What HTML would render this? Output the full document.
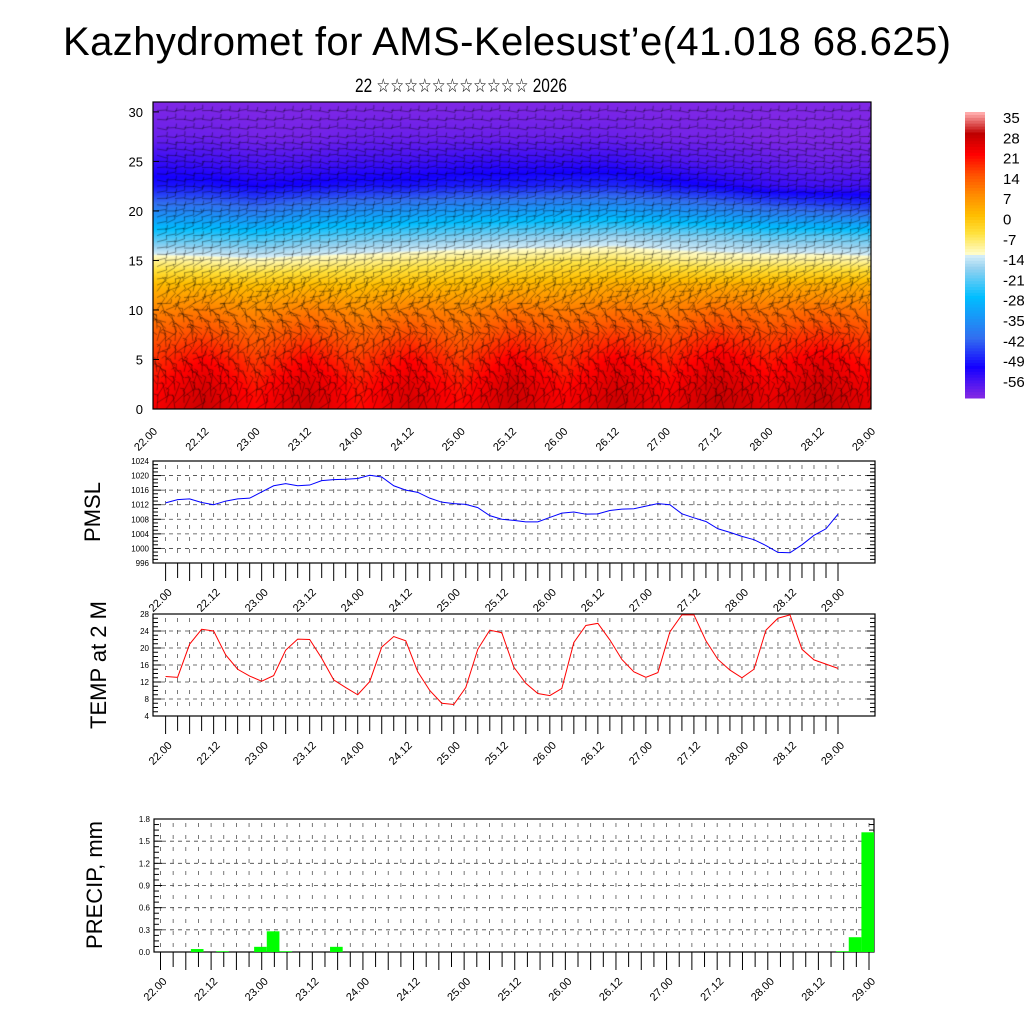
<!DOCTYPE html>
<html><head><meta charset="utf-8">
<style>
html,body{margin:0;padding:0;background:#fff;}
body{width:1024px;height:1024px;position:relative;overflow:hidden;font-family:"Liberation Sans",sans-serif;}
#cs{position:absolute;left:153px;top:102px;}
svg{position:absolute;left:0;top:0;}
</style></head>
<body>
<canvas id="cs" width="718" height="307"></canvas>
<svg id="svg" width="1024" height="1024"></svg>
<script>
// ---- data ----
const timeLabels = ["22.00","22.12","23.00","23.12","24.00","24.12","25.00","25.12","26.00","26.12","27.00","27.12","28.00","28.12","29.00"];
const pmsl = [1012.5,1013.4,1013.6,1012.6,1012.0,1013.0,1013.6,1013.8,1015.5,1017.2,1017.8,1017.2,1017.4,1018.6,1018.9,1019.0,1019.2,1020.1,1019.6,1017.2,1016.0,1015.4,1013.8,1012.7,1012.3,1012.1,1011.2,1009.0,1008.0,1007.7,1007.3,1007.3,1008.5,1009.7,1010.0,1009.4,1009.5,1010.4,1010.8,1010.9,1011.6,1012.3,1012.0,1009.5,1008.4,1007.4,1005.4,1004.4,1003.3,1002.4,1000.8,998.9,998.8,1001.0,1003.6,1005.4,1009.4];
const temp2m = [13.3,13.1,20.9,24.4,24.0,18.4,15.0,13.4,12.2,13.5,19.5,22.1,22.0,17.6,12.5,10.7,9.0,12.1,20.2,22.7,21.7,14.4,10.0,7.0,6.7,10.7,19.7,24.2,23.6,15.5,11.7,9.3,8.8,10.5,21.3,25.3,25.8,21.9,17.3,14.4,13.1,14.2,23.8,27.8,27.8,21.7,17.3,14.8,13.0,15.0,24.2,27.0,27.8,19.7,17.2,16.2,15.2];
const precipIdx = [3,5,8,9,10,14,54,55,56];
const precipVal = [0.04,0.01,0.07,0.28,0.01,0.07,0.01,0.2,1.62];
const pmslTicks = [996,1000,1004,1008,1012,1016,1020,1024];
const tempTicks = [4,8,12,16,20,24,28];
const precipTicks = ["0.0","0.3","0.6","0.9","1.2","1.5","1.8"];
const heightTicks = [0,5,10,15,20,25,30];
const csLevels = [0,2.5,5,7.5,10,12.5,15,17.5,20,22.5,25,27.5,31];
// temperature by level (rows) x 12h time (cols, 15)
const csTemp = [
 [22,27,21,27,20,26,21,27,22,27,23,28,24,28,24],
 [20,25,19,25,19,24,19,26,20,25,21,26,22,26,22],
 [17,21,16,21,16,21,16,22,17,22,18,23,19,23,19],
 [13,15,12,15,12,15,12,16,14,16,14,17,15,17,15],
 [8,9,7,9,7,9,8,10,9,10,9,11,10,11,10],
 [1,1,0,1,0,1,1,2,2,3,3,3,3,3,3],
 [-10,-11,-12,-11,-10,-9,-8,-8,-7,-7,-9,-10,-10,-10,-11],
 [-24,-24,-25,-23,-22,-21,-20,-19,-19,-18,-19,-20,-22,-22,-23],
 [-38,-38,-40,-37,-36,-35,-34,-34,-33,-33,-35,-37,-40,-42,-44],
 [-50,-50,-52,-51,-50,-50,-49,-49,-48,-48,-50,-52,-55,-56,-56],
 [-55,-56,-57,-57,-56,-56,-55,-55,-55,-55,-57,-58,-59,-60,-60],
 [-60,-60,-61,-61,-60,-60,-60,-60,-60,-60,-61,-61,-62,-62,-62],
 [-62,-62,-62,-62,-62,-62,-62,-62,-62,-62,-62,-62,-62,-62,-62]];
const windDirByLevel = [70,110,60,130,40,20,10,15,5,0,-5,0,0];
const cbLabels = ["35","28","21","14","7","0","-7","-14","-21","-28","-35","-42","-49","-56"];

const NS="http://www.w3.org/2000/svg";
const svg=document.getElementById('svg');
function mk(tag,attrs,parent){const e=document.createElementNS(NS,tag);for(const k in attrs)e.setAttribute(k,attrs[k]);(parent||svg).appendChild(e);return e;}
function txt(s,x,y,size,anchor,rot,name){const t=mk('text',{x:x,y:y,'font-size':size,'text-anchor':anchor||'middle','font-family':'Liberation Sans, DejaVu Sans, sans-serif',fill:'#000'});if(rot)t.setAttribute('transform',`rotate(${rot} ${x} ${y})`);t.textContent=s;return t;}

const cStops=[[-63,[138,43,226]],[-52,[20,0,255]],[-42,[50,110,240]],[-28,[0,190,255]],[-18,[150,210,240]],[-14,[210,236,248]],[-13,[255,252,200]],[-6,[255,225,60]],[0,[255,190,0]],[7,[255,140,0]],[14,[255,80,0]],[21,[255,0,0]],[28,[190,0,0]],[35,[255,170,170]]];
function col(v){if(v<=cStops[0][0])return cStops[0][1];for(let i=1;i<cStops.length;i++){if(v<=cStops[i][0]){const a=cStops[i-1],b=cStops[i];const f=(v-a[0])/(b[0]-a[0]);return a[1].map((c,j)=>Math.round(c+(b[1][j]-c)*f));}}return cStops[cStops.length-1][1];}

const csX0=153,csX1=871,csYb=409,csYt=102;
const csHx=i=>csX0+(csX1-csX0)*i/14;
const csHy=h=>csYb-(h/31)*(csYb-csYt);
(function(){
 const cv=document.getElementById('cs'),ctx=cv.getContext('2d');
 const W=718,H=307,img=ctx.createImageData(W,H);
 for(let py=0;py<H;py++){const h=31*(1-py/H);let r=0;while(r<csLevels.length-2&&h>csLevels[r+1])r++;const fr=(h-csLevels[r])/(csLevels[r+1]-csLevels[r]);
  for(let px=0;px<W;px++){const t=px/W*14;const c=Math.min(13,Math.floor(t));const fc=t-c;
   const v0=csTemp[r][c]*(1-fc)+csTemp[r][c+1]*fc,v1=csTemp[r+1][c]*(1-fc)+csTemp[r+1][c+1]*fc;
   const rgb=col(v0*(1-fr)+v1*fr);const k=(py*W+px)*4;img.data[k]=rgb[0];img.data[k+1]=rgb[1];img.data[k+2]=rgb[2];img.data[k+3]=255;}}
 ctx.putImageData(img,0,0);
 ctx.strokeStyle='rgba(0,0,0,0.55)';ctx.lineWidth=0.7;
 for(let li=0;li<csLevels.length-1;li++){
  for(let sub=0;sub<4;sub++){const h=csLevels[li]+sub*(csLevels[li+1]-csLevels[li])/4;const y=H-(h/31)*H;
   const dir=windDirByLevel[li]*Math.PI/180;
   for(let x=4;x<W;x+=9){const a=dir+((x*7+sub*13)%40-20)*Math.PI/180*(li<5?2:0.6);const L=li<5?14:10;
    ctx.beginPath();ctx.moveTo(x,y);ctx.lineTo(x+Math.cos(a)*L,y-Math.sin(a)*L);ctx.lineTo(x+Math.cos(a)*L+Math.cos(a+1.4)*4,y-Math.sin(a)*L-Math.sin(a+1.4)*4);ctx.stroke();}}}
})();
mk('rect',{x:csX0,y:csYt,width:csX1-csX0,height:csYb-csYt,fill:'none',stroke:'#000','stroke-width':1.2,});
heightTicks.forEach(h=>{const y=csHy(h);txt(String(h),143,y+5,13,'end',0,'height-tick-label');mk('line',{x1:csX0,x2:csX0+6,y1:y,y2:y,stroke:'#000'});});
timeLabels.forEach((s,i)=>{const x=csHx(i);txt(s,x+5,432,11,'end',-45,'time-tick-label');});

for(let i=0;i<98;i++){const v=35-i;const rgb=col(v);mk('rect',{x:965,y:112+i*286/98,width:20,height:286/98+0.5,fill:`rgb(${rgb})`,});}
cbLabels.forEach((s,i)=>txt(s,1003,123+i*20.3,15,'start',0,'colorbar-label'));

const tt=txt("Kazhydromet for AMS-Kelesust\u2019e(41.018 68.625)",507,55,40,'middle',0,'chart-title');
tt.setAttribute('textLength','888');
const st=txt("22 \u2606\u2606\u2606\u2606\u2606\u2606\u2606\u2606\u2606\u2606\u2606 2026",461,92,19,'middle',0,'chart-subtitle');
st.setAttribute('textLength','212');st.setAttribute('lengthAdjust','spacingAndGlyphs');

function panel(o){
 const {x0,x1,yt,yb,tx0,tx1,vmin,vmax,ticks,labels,name}=o;
 const xs=i=>tx0+(tx1-tx0)*i/56, ys=v=>yb-(v-vmin)/(vmax-vmin)*(yb-yt);
 const g=mk('g',{});
 for(let i=0;i<=56;i++){const x=xs(i);mk('line',{x1:x,x2:x,y1:yt+4,y2:yb-4,stroke:'#555','stroke-width':0.8,'stroke-dasharray':'4 8'},g);
  mk('line',{x1:x,x2:x,y1:yb,y2:yb+(i%2?15:18),stroke:'#000','stroke-width':1},g);}
 ticks.forEach((v,k)=>{const y=ys(v);if(k>0&&k<ticks.length-1)mk('line',{x1:x0,x2:x1,y1:y,y2:y,stroke:'#444','stroke-width':0.8,'stroke-dasharray':'4 4'},g);
  txt(labels?labels[k]:String(v),x0-4,y+3,8,'end',0,name+'-y-tick');
  mk('line',{x1:x0,x2:x0+8,y1:y,y2:y,stroke:'#000'},g);mk('line',{x1:x1-8,x2:x1,y1:y,y2:y,stroke:'#000'},g);
  if(k<ticks.length-1)for(let m=1;m<4;m++){const ym=y-(m/4)*(ys(ticks[0])-ys(ticks[1]));mk('line',{x1:x0,x2:x0+5,y1:ym,y2:ym,stroke:'#000'},g);mk('line',{x1:x1-5,x2:x1,y1:ym,y2:ym,stroke:'#000'},g);}});
 mk('rect',{x:x0,y:yt,width:x1-x0,height:yb-yt,fill:'none',stroke:'#000','stroke-width':1.2},g);
 timeLabels.forEach((s,i)=>txt(s,xs(i*4)+7,yb+30,11,'end',-45,name+'-time-label'));
 return {xs,ys,g};
}
const p1=panel({x0:153,x1:875,yt:461,yb:563,tx0:165.6,tx1:838,vmin:996,vmax:1024,ticks:pmslTicks,name:'pmsl'});
mk('polyline',{points:pmsl.map((v,i)=>p1.xs(i)+','+p1.ys(v)).join(' '),fill:'none',stroke:'#0000ff','stroke-width':1,});
txt("PMSL",100,512,22,'middle',-90,'pmsl-axis-title');

const p2=panel({x0:153,x1:875,yt:614,yb:716,tx0:165.6,tx1:838,vmin:4,vmax:28,ticks:tempTicks,name:'temp'});
mk('polyline',{points:temp2m.map((v,i)=>p2.xs(i)+','+p2.ys(v)).join(' '),fill:'none',stroke:'#ff0000','stroke-width':1,});
txt("TEMP at 2 M",106,665,22,'middle',-90,'temp-axis-title');

const p3=panel({x0:154,x1:874,yt:819,yb:952,tx0:160.5,tx1:869,vmin:0,vmax:1.8,ticks:[0,0.3,0.6,0.9,1.2,1.5,1.8],labels:precipTicks,name:'precip'});
precipIdx.forEach((i,k)=>{const xa=p3.xs(i-0.6),xb=p3.xs(i+0.4),y=p3.ys(precipVal[k]);
 const r=mk('rect',{x:xa,y:y,width:xb-xa,height:952-y,fill:'#00ff00'});
 
 });
txt("PRECIP, mm",102,885,22,'middle',-90,'precip-axis-title');
</script>
</body></html>
